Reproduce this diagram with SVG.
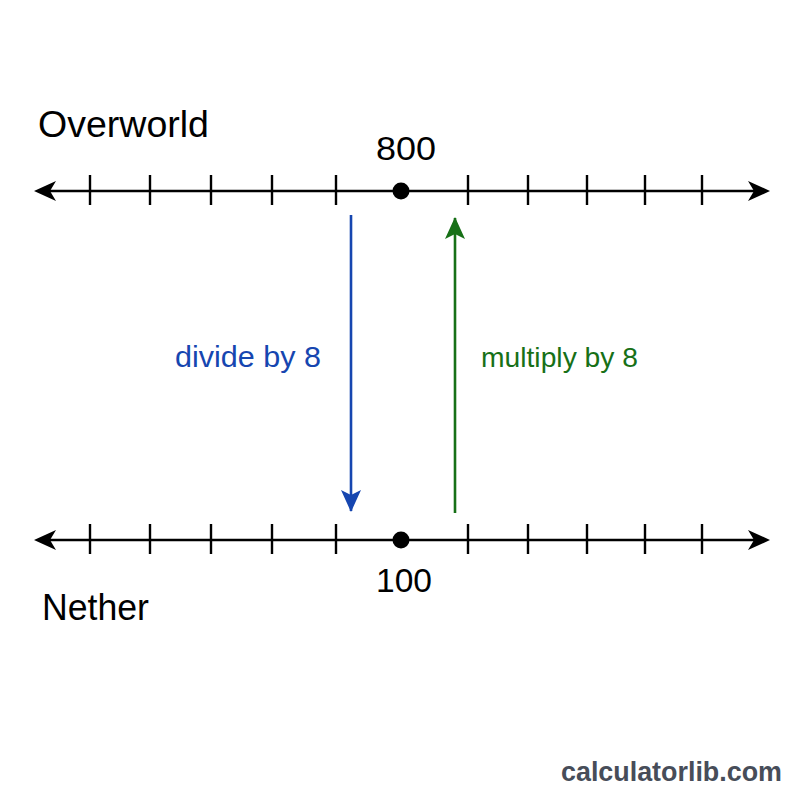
<svg xmlns="http://www.w3.org/2000/svg" width="800" height="800" viewBox="0 0 800 800">
<defs>
<style>
.axis{stroke:#000;stroke-width:2.6;fill:none}
.tick{stroke:#000;stroke-width:2.4}
.lbl{font-family:"Liberation Sans",Arial,sans-serif;fill:#000}
</style>
<marker id="ahb" viewBox="0 0 22 20" refX="21" refY="10" markerWidth="22" markerHeight="20" markerUnits="userSpaceOnUse" orient="auto">
<path d="M0,0 L22,10 L0,20 L5,10 Z" fill="#1646b0"/>
</marker>
<marker id="ahg" viewBox="0 0 22 20" refX="21" refY="10" markerWidth="22" markerHeight="20" markerUnits="userSpaceOnUse" orient="auto">
<path d="M0,0 L22,10 L0,20 L5,10 Z" fill="#177017"/>
</marker>
</defs>
<rect width="800" height="800" fill="#fff"/>

<g id="overworld-line">
<line class="axis" x1="50" y1="191" x2="754" y2="191"/>
<path d="M34,191 L56,181 L50,191 L56,201 Z" fill="#000"/>
<path d="M770,191 L748,181 L754,191 L748,201 Z" fill="#000"/>
<g class="tick">
<line x1="90" y1="175" x2="90" y2="205"/>
<line x1="150" y1="175" x2="150" y2="205"/>
<line x1="211" y1="175" x2="211" y2="205"/>
<line x1="272" y1="175" x2="272" y2="205"/>
<line x1="336" y1="175" x2="336" y2="205"/>
<line x1="468" y1="175" x2="468" y2="205"/>
<line x1="528" y1="175" x2="528" y2="205"/>
<line x1="587" y1="175" x2="587" y2="205"/>
<line x1="645" y1="175" x2="645" y2="205"/>
<line x1="702" y1="175" x2="702" y2="205"/>
</g>
<circle cx="401" cy="191" r="8.5" fill="#000"/>
<text class="lbl" x="38" y="137" font-size="36" textLength="171" lengthAdjust="spacingAndGlyphs">Overworld</text>
<text class="lbl" x="376" y="160" font-size="34" textLength="60" lengthAdjust="spacingAndGlyphs">800</text>
</g>

<g id="nether-line">
<line class="axis" x1="50" y1="540" x2="754" y2="540"/>
<path d="M34,540 L56,530 L50,540 L56,550 Z" fill="#000"/>
<path d="M770,540 L748,530 L754,540 L748,550 Z" fill="#000"/>
<g class="tick">
<line x1="90" y1="524" x2="90" y2="554"/>
<line x1="150" y1="524" x2="150" y2="554"/>
<line x1="211" y1="524" x2="211" y2="554"/>
<line x1="272" y1="524" x2="272" y2="554"/>
<line x1="336" y1="524" x2="336" y2="554"/>
<line x1="468" y1="524" x2="468" y2="554"/>
<line x1="528" y1="524" x2="528" y2="554"/>
<line x1="587" y1="524" x2="587" y2="554"/>
<line x1="645" y1="524" x2="645" y2="554"/>
<line x1="702" y1="524" x2="702" y2="554"/>
</g>
<circle cx="401" cy="540" r="8.5" fill="#000"/>
<text class="lbl" x="376" y="592" font-size="33" textLength="56" lengthAdjust="spacingAndGlyphs">100</text>
<text class="lbl" x="42" y="620" font-size="36" textLength="107" lengthAdjust="spacingAndGlyphs">Nether</text>
</g>

<g id="connectors">
<line x1="351" y1="215" x2="351" y2="511" stroke="#1646b0" stroke-width="2.6" marker-end="url(#ahb)"/>
<line x1="455" y1="513" x2="455" y2="218" stroke="#177017" stroke-width="2.6" marker-end="url(#ahg)"/>
<text x="175" y="367" font-family="Liberation Sans,Arial,sans-serif" font-size="29" fill="#1646b0" textLength="146" lengthAdjust="spacingAndGlyphs">divide by 8</text>
<text x="481" y="367" font-family="Liberation Sans,Arial,sans-serif" font-size="28" fill="#177017" textLength="157" lengthAdjust="spacingAndGlyphs">multiply by 8</text>
</g>

<g id="watermark">
<text x="561" y="781" font-family="Liberation Sans,Arial,sans-serif" font-size="27" font-weight="bold" fill="#474d59" textLength="221" lengthAdjust="spacingAndGlyphs">calculatorlib.com</text>
</g>
</svg>
